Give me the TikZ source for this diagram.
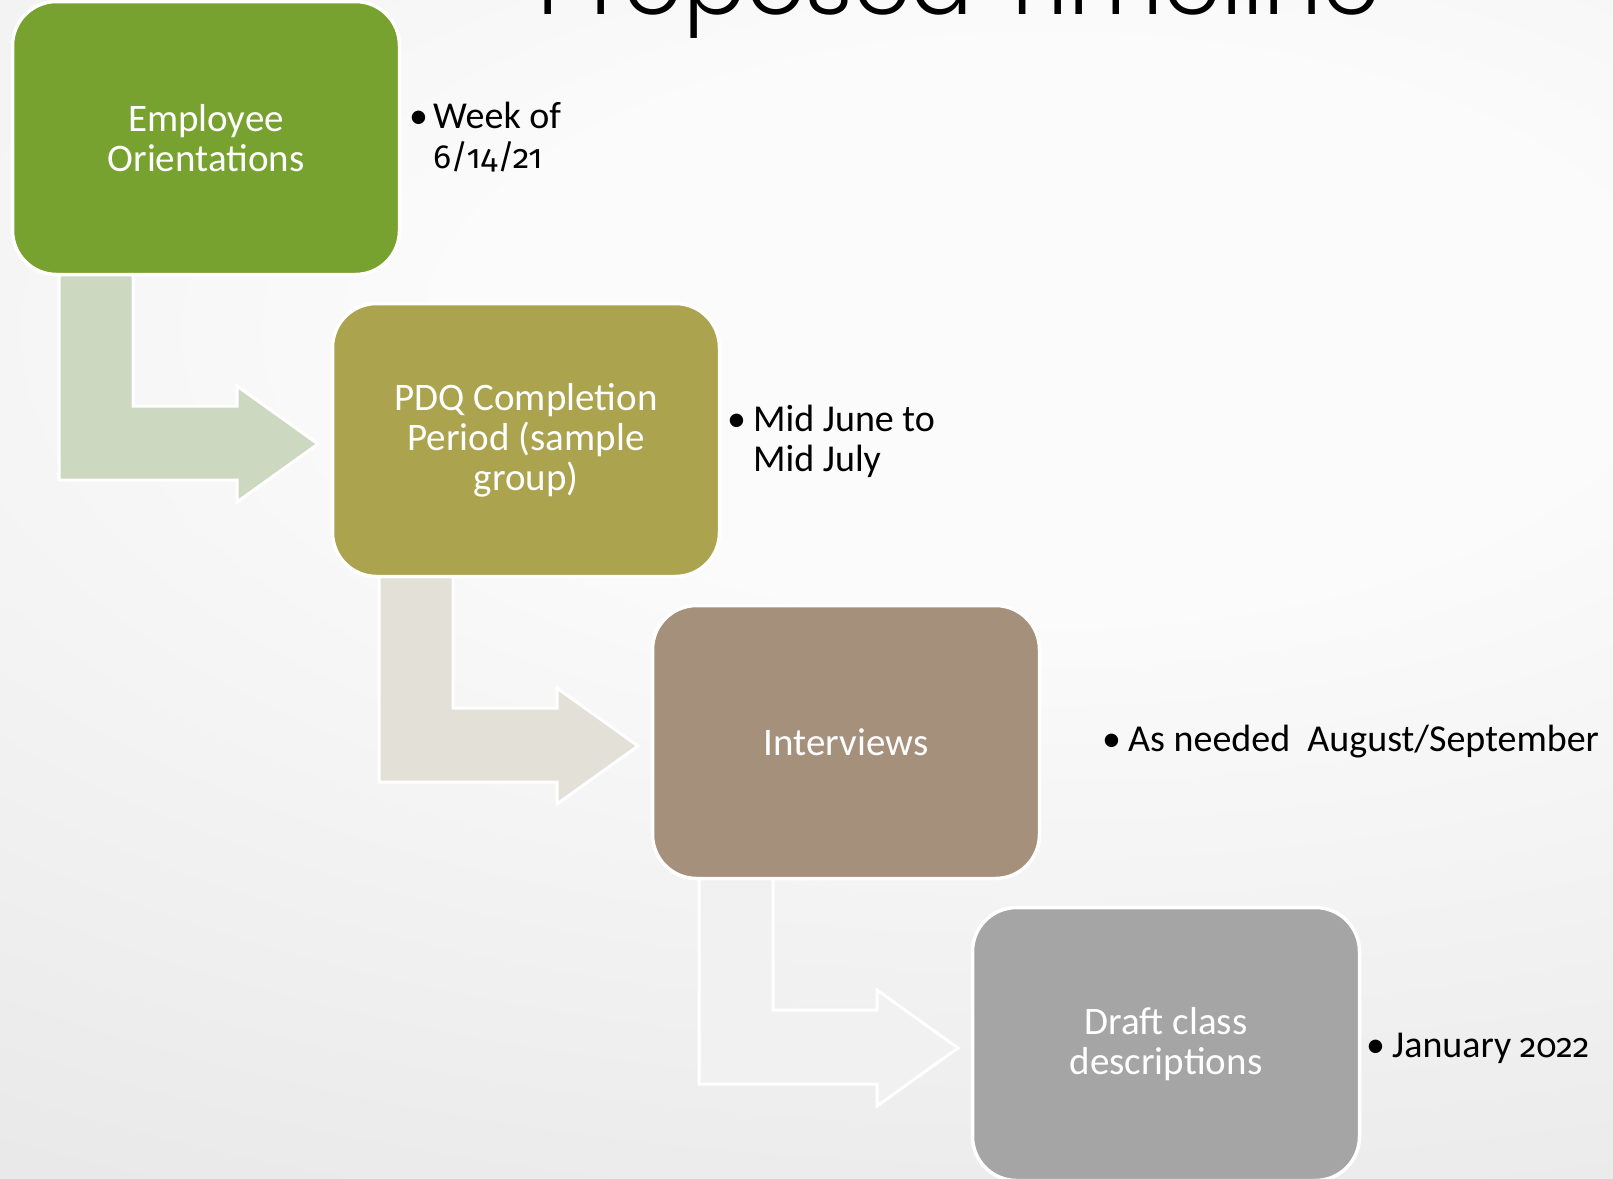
\documentclass[tikz,border=0pt]{standalone}
\usepackage{fontspec}
\setmainfont{Carlito}
\newfontfamily\onumfont{Fira Sans}[Numbers=OldStyle, Scale=0.88]
\newfontfamily\titlefont{Poppins Light}
\definecolor{bgin}{HTML}{FBFBFB}
\definecolor{bgout}{HTML}{CECECE}
\definecolor{boxA}{HTML}{78A22F}
\definecolor{boxB}{HTML}{ABA34E}
\definecolor{boxC}{HTML}{A5907C}
\definecolor{boxD}{HTML}{A5A5A5}
\definecolor{arrA}{HTML}{CDD8C0}
\definecolor{arrB}{HTML}{E3E0D8}
\definecolor{arrC}{HTML}{F1F1F1}
\pgfdeclareradialshading{bgshade}{\pgfpoint{0bp}{0bp}}{color(0bp)=(bgin); color(7bp)=(bgin); color(50bp)=(bgout)}
\tikzset{
  stepbox/.style={rectangle, draw=white, line width=3.5pt, rounded corners=44pt,
    minimum width=387pt, minimum height=273pt, text=white, align=center,
    inner sep=0pt, font=\fontsize{39}{40}\selectfont},
  blockarrow/.style={draw=white, line width=3pt, line join=miter},
  note/.style={anchor=base west, inner sep=0pt, font=\fontsize{38}{40}\selectfont, text=black},
}
\begin{document}
\begin{tikzpicture}[x=1pt,y=-1pt]
\useasboundingbox (0,0) rectangle (1613,1178);
\clip (0,0) rectangle (1613,1178);
\fill[bgout] (0,0) rectangle (1613,1178);
\shade[shading=bgshade] (1050,330) ellipse [x radius=2100pt, y radius=1000pt];
% title
\node (title) [anchor=base, inner sep=0pt] at (959,14) {\resizebox{842pt}{!}{\titlefont Proposed Timeline}};
% centres
\coordinate (c1) at (206,138);
\coordinate (c2) at (526,440);
\coordinate (c3) at (846,742);
\coordinate (c4) at (1166,1044);
% block arrows
\foreach \c/\col in {c1/arrA, c2/arrB, c3/arrC}{
  \draw[blockarrow, fill=\col, shift={(\c)}] (-147,132) -- (-73,132) -- (-73,268) -- (31,268) -- (31,248)
    -- (112,306) -- (31,364) -- (31,342) -- (-147,342) -- cycle;
}
% boxes
\node[stepbox, fill=boxA] (b1) at (c1) {Employee\\Orientations};
\node[stepbox, fill=boxB] (b2) at (c2) {PDQ Completion\\Period (sample\\group)};
\node[stepbox, fill=boxC] (b3) at (c3) {Interviews};
\node[stepbox, fill=boxD] (b4) at (c4) {Draft class\\descriptions};
% notes
\node[note] (d1) at (409,128) {•};
\node[note] (n1a) at (433,128) {Week of};
\node[note] (n1b) at (433,168) {\onumfont 6/14/21};
\node[note] (d2) at (727,431) {•};
\node[note] (n2a) at (753,431) {Mid June to};
\node[note] (n2b) at (753,471) {Mid July};
\node[note] (d3) at (1102,751) {•};
\node[note] (n3a) at (1128,751) {As needed\ \ August/September};
\node[note] (d4) at (1366,1057) {•};
\node[note] (n4a) at (1392,1057) {January {\onumfont 2022}};
\end{tikzpicture}
\end{document}
